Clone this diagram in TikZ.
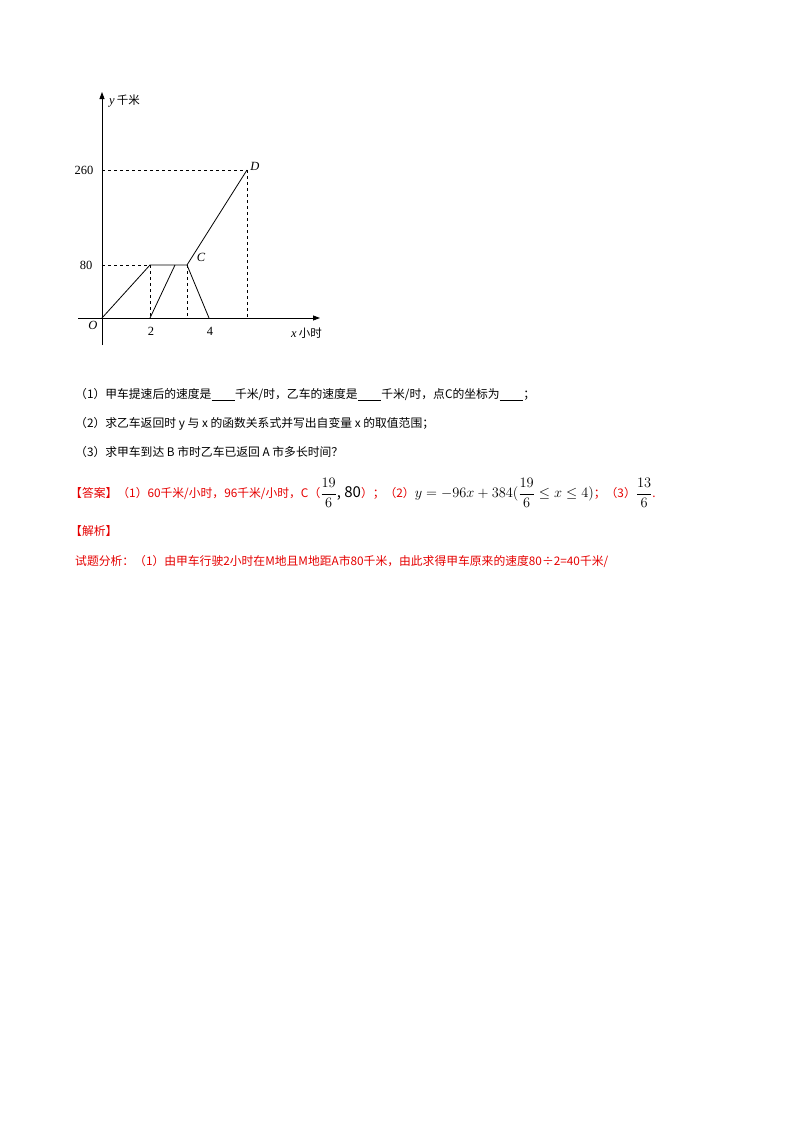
\documentclass[tikz,border=0pt]{standalone}
\usepackage{amsmath}
\usepackage{fontspec}
\setmainfont{Liberation Serif}
\newfontfamily\cjk{Noto Sans CJK SC}
\usetikzlibrary{arrows.meta}
\begin{document}
\begin{tikzpicture}[x=1pt,y=-1pt,
  ln/.style={line width=0.8pt},
  dsh/.style={dashed,line width=0.6pt},
  lab/.style={inner sep=0,font=\fontsize{12.5}{14}\selectfont},
  txt/.style={anchor=west,inner sep=0,font=\cjk\fontsize{11.8}{14}\selectfont},
  red/.style={txt,text=red!90!black}]
\useasboundingbox (0,0) rectangle (800,1132);
% axes
\coordinate (O) at (102,318);
\draw[ln,-{Triangle[length=7pt,width=5pt]}] (102,345) -- (102,92) coordinate (ytop);
\draw[ln,-{Triangle[length=7pt,width=5pt]}] (78,318) -- (320,318) coordinate (xend);
\node[lab,anchor=west] (ylab) at (109,101) {\textit{y}\,{\cjk\fontsize{11.5}{12}\selectfont 千米}};
\node[lab,anchor=west] (xlab) at (291,333) {\textit{x}\,{\cjk\fontsize{11.5}{12}\selectfont 小时}};
\node[lab] (Olab) at (93,325) {\textit{O}};
\node[lab] (t2) at (151,331) {2};
\node[lab] (t4) at (210,331) {4};
\node[lab] (t80) at (86,265) {80};
\node[lab] (t260) at (84,170) {260};
\coordinate (A) at (150,265);
\coordinate (B) at (175,265);
\coordinate (C) at (187,265);
\coordinate (D) at (247,170);
\coordinate (X2) at (150,318);
\coordinate (XC) at (187,318);
\coordinate (X4) at (209,318);
\coordinate (XD) at (247,318);
\node[lab] (Clab) at (201,257) {\textit{C}};
\node[lab] (Dlab) at (255,166) {\textit{D}};
\draw[ln] (O) -- (A) -- (C) -- (D);
\draw[ln] (X2) -- (B);
\draw[ln] (C) -- (X4);
\draw[dsh] (102,265) -- (A);
\draw[dsh] (A) -- (X2);
\draw[dsh] (C) -- (XC);
\draw[dsh] (102,170) -- (D);
\draw[dsh] (D) -- (XD);
% text
\node[txt] (q1) at (75,395) {（1）甲车提速后的速度是\underline{\hspace{2em}}千米/时，乙车的速度是\underline{\hspace{2em}}千米/时，点C的坐标为\underline{\hspace{2em}}；};
\node[txt] (q2) at (75,424) {（2）求乙车返回时 y 与 x 的函数关系式并写出自变量 x 的取值范围；};
\node[txt] (q3) at (75,452) {（3）求甲车到达 B 市时乙车已返回 A 市多长时间？};
\node[red] (ans) at (70,493) {【答案】（1）60千米/小时，96千米/小时，C（{\color{black}\fontsize{15}{16}\selectfont$\dfrac{19}{6}$, 80}）；（2）{\color{black}\fontsize{15}{16}\selectfont$y=-96x+384(\dfrac{19}{6}\le x\le 4)$}；（3）{\color{black}\fontsize{15}{16}\selectfont$\dfrac{13}{6}$}.};
\node[red] (jx) at (70,531) {【解析】};
\node[red] (an) at (75,561) {试题分析：（1）由甲车行驶2小时在M地且M地距A市80千米，由此求得甲车原来的速度80÷2=40千米/};
\end{tikzpicture}
\end{document}
